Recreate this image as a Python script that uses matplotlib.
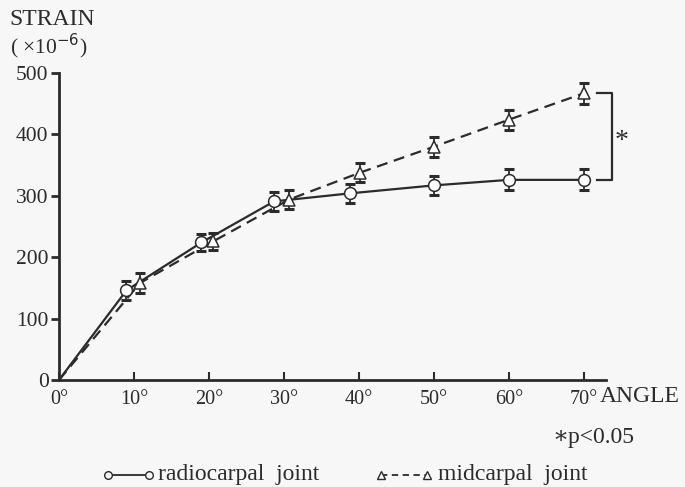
import matplotlib
matplotlib.use("Agg")
import matplotlib.pyplot as plt
from matplotlib.lines import Line2D

# values (strain x 1e-6)
radio_angle = [0, 9, 19, 28.7, 38.8, 50, 60, 70]
radio_strain = [0, 146, 224, 291, 304, 317, 326, 326]
radio_err = [0, 15, 14, 15, 16, 15, 17, 17]

mid_angle = [0, 10.8, 20.6, 30.7, 40.2, 50, 60, 70]
mid_strain = [0, 158, 226, 294, 338, 380, 424, 467]
mid_err = [0, 16, 14, 15, 15, 16, 16, 17]

xticks = [0, 10, 20, 30, 40, 50, 60, 70]
yticks = [0, 100, 200, 300, 400, 500]

ink = "#2b2b2b"
bg = "#f7f7f7"
plt.rcParams["font.family"] = ["Liberation Serif", "DejaVu Serif"]

fig = plt.figure(figsize=(6.85, 4.87), dpi=100, facecolor=bg)
ax = fig.add_axes([0.0861, 0.2197, 0.799, 0.6303])
ax.set_facecolor(bg)

ax.errorbar(radio_angle[1:], radio_strain[1:], yerr=radio_err[1:], fmt="none",
            ecolor=ink, elinewidth=1.3, capsize=3.5, capthick=2.2, zorder=3)
ax.errorbar(mid_angle[1:], mid_strain[1:], yerr=mid_err[1:], fmt="none",
            ecolor=ink, elinewidth=1.3, capsize=3.5, capthick=2.2, zorder=3)
ax.plot(radio_angle, radio_strain, color=ink, lw=1.6, zorder=2)
ax.plot(mid_angle, mid_strain, color=ink, lw=1.6, ls=(0, (5, 3)), zorder=2)
ax.plot(radio_angle[1:], radio_strain[1:], "o", ms=8.5, mfc="white", mec=ink,
        mew=1.1, ls="none", zorder=4)
ax.plot(mid_angle[1:], mid_strain[1:], "^", ms=8, mfc="white", mec=ink,
        mew=1.1, ls="none", zorder=4)

ax.set_xlim(0, 73)
ax.set_ylim(0, 500)
for s in ["top", "right"]:
    ax.spines[s].set_visible(False)
for s in ["left", "bottom"]:
    ax.spines[s].set_linewidth(2)
    ax.spines[s].set_color(ink)

ax.set_xticks(xticks)
ax.set_xticklabels([f"{t}°" for t in xticks])
ax.set_yticks(yticks)
ax.tick_params(axis="x", direction="in", length=6, width=1.5, pad=7,
               labelsize=14.5, colors=ink)
ax.tick_params(axis="y", direction="out", length=6, width=2, pad=1.5,
               labelsize=15.5, colors=ink)

# significance bracket
ax.plot([71.8, 73.7, 73.7, 71.8], [467, 467, 326, 326], color=ink, lw=1.6,
        clip_on=False)
ax.text(75, 388, "*", fontsize=20, color=ink, ha="center", va="center")

fig.text(0.013, 0.959, "STRAIN", fontsize=17, color=ink, va="center")
fig.text(0.015, 0.905, "( ×10$^{-6}$)", fontsize=15.5, color=ink, va="center")
fig.text(600 / 685, 0.185, "ANGLE", fontsize=17, color=ink, va="center")
fig.text(552 / 685, 0.102, "∗p<0.05", fontsize=17, color=ink, va="center")

# legend drawn by hand in figure coordinates
ly = 0.025
fig.add_artist(Line2D([108 / 685, 149 / 685], [ly, ly], color=ink, lw=1.3,
                      marker="o", ms=5.5, mfc=bg, mec=ink, mew=1))
fig.text(158 / 685, ly, "radiocarpal  joint", fontsize=17, color=ink,
         va="center")
fig.add_artist(Line2D([381 / 685, 427 / 685], [ly, ly], color=ink, lw=1.3,
                      ls=(0, (3.5, 2.5)), marker="^", ms=5.5, mfc=bg, mec=ink,
                      mew=1))
fig.text(438 / 685, ly, "midcarpal  joint", fontsize=17, color=ink,
         va="center")

fig.savefig("out.png", dpi=100, facecolor=bg)
